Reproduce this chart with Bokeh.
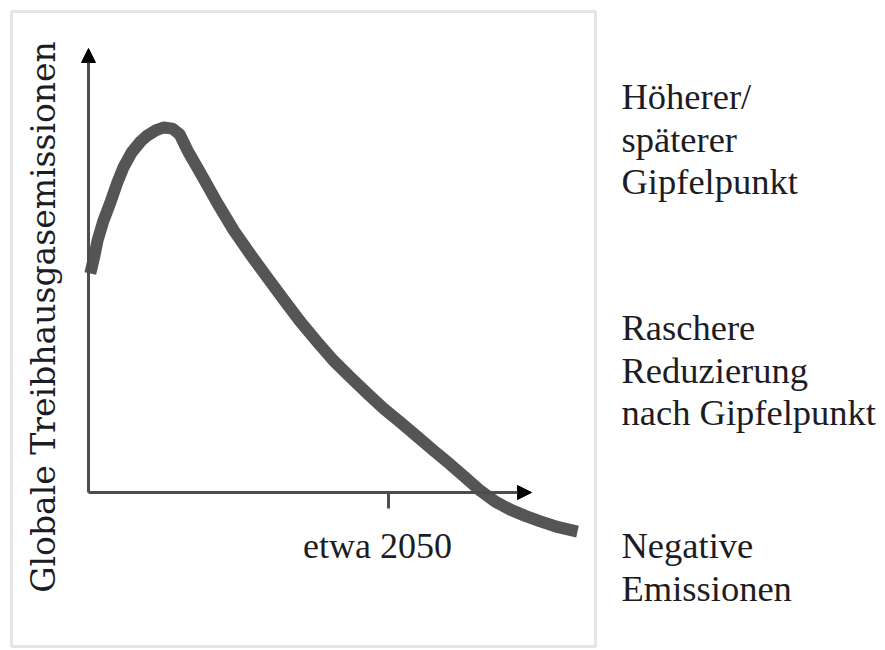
import math
from bokeh.plotting import figure
from bokeh.models import Range1d, Arrow, NormalHead, BoxAnnotation
from bokeh.core.properties import value
from bokeh.embed import file_html
from bokeh.resources import INLINE

# ---- data ----
years = [2000.3, 2001.0, 2001.5, 2002.5, 2003.7, 2004.8, 2005.8, 2007.2, 2008.7,
         2009.8, 2011.2, 2012.5, 2014.0, 2015.2, 2016.5, 2018.7, 2021.5, 2024.2,
         2027.0, 2029.8, 2032.5, 2035.3, 2038.2, 2040.8, 2043.7, 2046.5, 2049.2,
         2052.0, 2054.8, 2057.5, 2060.3, 2062.8, 2065.3, 2067.8, 2070.3, 2072.8,
         2075.3, 2078.3, 2081.5]
emissions = [60.0, 64.9, 69.0, 74.5, 79.7, 84.9, 89.0, 93.2, 96.2,
             97.8, 99.2, 100.0, 99.7, 98.1, 93.7, 87.4, 79.2, 71.8,
             65.2, 58.9, 52.9, 46.8, 41.1, 36.2, 31.5, 27.1, 23.0,
             19.2, 15.3, 11.5, 7.7, 4.1, 0.5, -2.5, -4.7, -6.4,
             -7.9, -9.5, -10.7]
tick_year = 2050
tick_label = "etwa 2050"
y_label = "Globale Treibhausgasemissionen"
side_labels = [
    ["Höherer/", "späterer", "Gipfelpunkt"],
    ["Raschere", "Reduzierung", "nach Gipfelpunkt"],
    ["Negative", "Emissionen"],
]

# ---- layout helpers (canvas pixel -> data) ----
X0, XS = 88.0, 6.0      # canvas x of year 2000, px per year
Y0, YS = 492.0, 3.65    # canvas y of zero, px per unit
def dx(px): return 2000 + (px - X0) / XS
def dy(py): return (Y0 - py) / YS

W, H = 885, 650
p = figure(width=W, height=H, output_backend="svg", toolbar_location=None,
           x_range=Range1d(dx(0), dx(W)), y_range=Range1d(dy(H), dy(0)),
           x_axis_location=None, y_axis_location=None, min_border=0)
p.grid.visible = False
p.outline_line_color = None
p.background_fill_color = "white"
p.border_fill_color = "white"

# outer frame
p.add_layout(BoxAnnotation(left=dx(11), right=dx(595), top=dy(11), bottom=dy(646),
                           fill_color=None, line_color="#a8a8a8", line_width=3))

# axes with arrows
ax_col = "#4d4d4d"
p.add_layout(Arrow(end=NormalHead(size=14, fill_color="black", line_color="black"),
                   x_start=2000, y_start=0, x_end=2000, y_end=dy(48),
                   line_color=ax_col, line_width=3))
p.add_layout(Arrow(end=NormalHead(size=14, fill_color="black", line_color="black"),
                   x_start=2000, y_start=0, x_end=dx(531), y_end=0,
                   line_color=ax_col, line_width=3))
p.segment(x0=[tick_year], y0=[0], x1=[tick_year], y1=[dy(508)],
          line_color=ax_col, line_width=3)

# curve
p.line(years, emissions, line_color="#555555", line_width=12,
       line_cap="butt", line_join="round")

txt_col = "#1c1c24"
serif = value("Liberation Serif")

p.text(x=[tick_year - (388 - 377) / XS], y=[dy(545)], text=[tick_label],
       text_font=serif, text_font_size="36px", text_color=txt_col,
       text_align="center", text_baseline="alphabetic")

p.text(x=[dx(43)], y=[dy(316.5)], text=[y_label], angle=math.pi / 2,
       text_font=value("DejaVu Serif"), text_font_size="33px", text_color=txt_col,
       text_align="center", text_baseline="alphabetic")

block_baselines = [96, 327, 545]
line_gap = 42.5
xs, ys, ts = [], [], []
for block, b0 in zip(side_labels, block_baselines):
    for i, t in enumerate(block):
        xs.append(dx(621))
        ys.append(dy(b0 + i * line_gap))
        ts.append(t)
p.text(x=xs, y=ys, text=ts, text_font=serif, text_font_size="36.5px",
       text_color=txt_col, text_align="left", text_baseline="alphabetic")

open("out.html", "w").write(file_html(p, INLINE))
